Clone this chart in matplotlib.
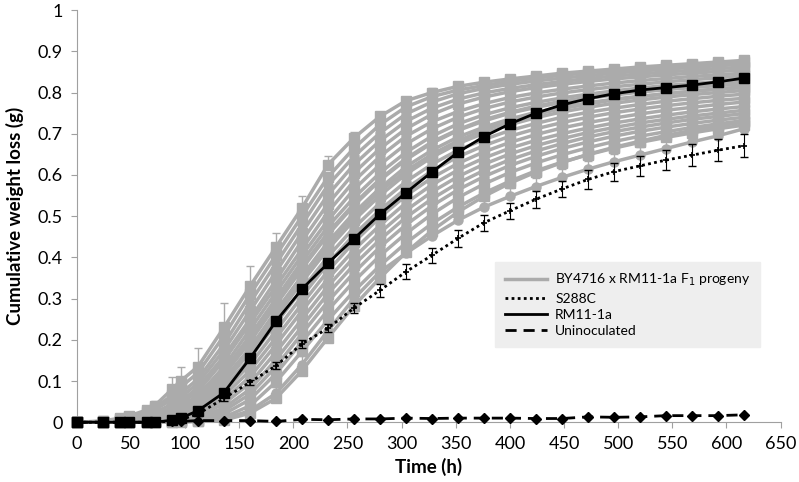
import matplotlib.pyplot as plt
import numpy as np

plt.rcParams['font.family'] = ['Lato', 'DejaVu Sans']

# sampling times (h)
t = [0, 24, 40, 48, 65, 72, 88, 96, 112, 136, 160, 184, 208, 232, 256, 280, 304,
     328, 352, 376, 400, 424, 448, 472, 496, 520, 544, 568, 592, 616]

rm11 = [0, 0, 0, 0, 0, 0, 0.005, 0.01, 0.028, 0.072, 0.155, 0.245, 0.323, 0.386, 0.445,
        0.505, 0.557, 0.607, 0.655, 0.693, 0.724, 0.75, 0.77, 0.785, 0.797, 0.806,
        0.812, 0.818, 0.826, 0.835]
s288c = [0, 0, 0, 0, 0, 0, 0.003, 0.006, 0.02, 0.058, 0.097, 0.137, 0.19, 0.228, 0.277,
         0.32, 0.365, 0.405, 0.446, 0.484, 0.513, 0.541, 0.566, 0.589, 0.608, 0.622,
         0.636, 0.648, 0.66, 0.671]
s288c_err = [0, 0, 0, 0, 0, 0, 0.002, 0.003, 0.004, 0.006, 0.006, 0.008, 0.01, 0.01, 0.013,
             0.016, 0.018, 0.018, 0.02, 0.02, 0.02, 0.02, 0.02, 0.022, 0.022, 0.024,
             0.025, 0.027, 0.027, 0.028]
uninoc = [0, 0, 0, 0, 0, 0, 0.002, 0.002, 0.004, 0.004, 0.004, 0.002, 0.007, 0.006, 0.008,
          0.008, 0.01, 0.009, 0.01, 0.01, 0.01, 0.009, 0.009, 0.013, 0.012, 0.013,
          0.016, 0.016, 0.016, 0.018]

# F1 progeny (grey)
g01 = [0, 0.003, 0.01, 0.015, 0.03, 0.04, 0.08, 0.1, 0.135, 0.23, 0.33, 0.425, 0.52, 0.625, 0.69, 0.742, 0.78, 0.8, 0.815, 0.825, 0.833, 0.84, 0.847, 0.852, 0.857, 0.862, 0.866, 0.87, 0.874, 0.878]
g02 = [0, 0.002, 0.008, 0.012, 0.025, 0.035, 0.065, 0.085, 0.12, 0.21, 0.31, 0.405, 0.5, 0.595, 0.665, 0.722, 0.765, 0.79, 0.806, 0.817, 0.827, 0.835, 0.842, 0.848, 0.853, 0.858, 0.862, 0.866, 0.87, 0.873]
g03 = [0, 0.002, 0.006, 0.01, 0.02, 0.03, 0.055, 0.07, 0.105, 0.19, 0.29, 0.385, 0.48, 0.575, 0.645, 0.702, 0.748, 0.777, 0.797, 0.81, 0.82, 0.828, 0.835, 0.841, 0.847, 0.852, 0.857, 0.861, 0.865, 0.869]
g04 = [0, 0.001, 0.004, 0.008, 0.015, 0.022, 0.045, 0.06, 0.095, 0.175, 0.27, 0.365, 0.46, 0.552, 0.625, 0.683, 0.73, 0.762, 0.784, 0.799, 0.81, 0.819, 0.827, 0.834, 0.84, 0.845, 0.85, 0.854, 0.858, 0.862]
g05 = [0, 0.001, 0.003, 0.006, 0.012, 0.018, 0.035, 0.05, 0.085, 0.16, 0.25, 0.345, 0.44, 0.53, 0.605, 0.664, 0.712, 0.747, 0.772, 0.789, 0.802, 0.812, 0.82, 0.827, 0.833, 0.838, 0.843, 0.847, 0.851, 0.855]
g06 = [0, 0.001, 0.003, 0.005, 0.01, 0.015, 0.03, 0.045, 0.075, 0.15, 0.24, 0.33, 0.42, 0.51, 0.585, 0.645, 0.694, 0.729, 0.754, 0.773, 0.788, 0.799, 0.808, 0.816, 0.823, 0.829, 0.834, 0.839, 0.843, 0.847]
g07 = [0, 0.001, 0.002, 0.004, 0.008, 0.012, 0.025, 0.038, 0.065, 0.135, 0.225, 0.315, 0.405, 0.49, 0.565, 0.625, 0.675, 0.712, 0.74, 0.761, 0.777, 0.789, 0.799, 0.807, 0.814, 0.82, 0.826, 0.831, 0.836, 0.84]
g08 = [0, 0.001, 0.002, 0.003, 0.006, 0.01, 0.02, 0.032, 0.058, 0.125, 0.21, 0.3, 0.39, 0.475, 0.545, 0.605, 0.655, 0.694, 0.724, 0.746, 0.763, 0.776, 0.787, 0.796, 0.804, 0.811, 0.817, 0.822, 0.826, 0.83]
g09 = [0, 0.001, 0.002, 0.003, 0.005, 0.008, 0.018, 0.028, 0.052, 0.115, 0.195, 0.285, 0.372, 0.455, 0.526, 0.587, 0.637, 0.677, 0.708, 0.731, 0.75, 0.764, 0.776, 0.786, 0.794, 0.801, 0.807, 0.812, 0.817, 0.821]
g10 = [0, 0, 0.001, 0.002, 0.004, 0.006, 0.015, 0.024, 0.045, 0.105, 0.18, 0.27, 0.355, 0.437, 0.508, 0.568, 0.62, 0.66, 0.692, 0.716, 0.736, 0.752, 0.765, 0.775, 0.784, 0.791, 0.797, 0.803, 0.808, 0.812]
g11 = [0, 0, 0.001, 0.002, 0.003, 0.005, 0.012, 0.02, 0.04, 0.095, 0.17, 0.255, 0.34, 0.42, 0.49, 0.55, 0.602, 0.643, 0.676, 0.701, 0.722, 0.739, 0.753, 0.764, 0.774, 0.782, 0.789, 0.795, 0.8, 0.805]
g12 = [0, 0, 0.001, 0.001, 0.003, 0.004, 0.01, 0.016, 0.034, 0.085, 0.155, 0.24, 0.322, 0.402, 0.472, 0.532, 0.584, 0.626, 0.66, 0.686, 0.708, 0.725, 0.74, 0.752, 0.762, 0.771, 0.779, 0.785, 0.791, 0.796]
g13 = [0, 0, 0, 0.001, 0.002, 0.003, 0.008, 0.013, 0.028, 0.075, 0.14, 0.222, 0.305, 0.385, 0.455, 0.515, 0.567, 0.61, 0.644, 0.671, 0.694, 0.712, 0.727, 0.74, 0.751, 0.76, 0.768, 0.775, 0.781, 0.786]
g14 = [0, 0, 0, 0.001, 0.002, 0.003, 0.006, 0.01, 0.022, 0.065, 0.125, 0.205, 0.287, 0.367, 0.437, 0.497, 0.55, 0.593, 0.628, 0.656, 0.679, 0.698, 0.714, 0.727, 0.738, 0.748, 0.757, 0.764, 0.771, 0.777]
g15 = [0, 0, 0, 0, 0.001, 0.002, 0.005, 0.008, 0.018, 0.055, 0.11, 0.188, 0.27, 0.348, 0.418, 0.478, 0.532, 0.576, 0.612, 0.641, 0.665, 0.684, 0.7, 0.714, 0.726, 0.736, 0.745, 0.753, 0.76, 0.766]
g16 = [0, 0, 0, 0, 0.001, 0.002, 0.004, 0.006, 0.014, 0.045, 0.095, 0.17, 0.25, 0.33, 0.4, 0.46, 0.514, 0.559, 0.596, 0.626, 0.651, 0.671, 0.688, 0.703, 0.715, 0.726, 0.735, 0.743, 0.75, 0.757]
g17 = [0, 0, 0, 0, 0, 0.001, 0.003, 0.005, 0.01, 0.035, 0.08, 0.152, 0.232, 0.312, 0.382, 0.443, 0.497, 0.542, 0.58, 0.611, 0.637, 0.658, 0.676, 0.692, 0.705, 0.716, 0.726, 0.735, 0.742, 0.749]
g18 = [0, 0, 0, 0, 0, 0.001, 0.002, 0.004, 0.008, 0.028, 0.068, 0.135, 0.215, 0.293, 0.363, 0.425, 0.479, 0.525, 0.564, 0.596, 0.623, 0.645, 0.664, 0.68, 0.694, 0.706, 0.716, 0.725, 0.733, 0.74]
g19 = [0, 0, 0, 0, 0, 0, 0.002, 0.003, 0.006, 0.02, 0.055, 0.118, 0.195, 0.272, 0.342, 0.404, 0.458, 0.505, 0.545, 0.578, 0.606, 0.629, 0.649, 0.666, 0.681, 0.694, 0.705, 0.715, 0.724, 0.732]
g20 = [0, 0, 0, 0, 0, 0, 0.001, 0.002, 0.004, 0.012, 0.04, 0.098, 0.172, 0.248, 0.318, 0.38, 0.435, 0.482, 0.522, 0.556, 0.585, 0.61, 0.631, 0.649, 0.665, 0.679, 0.691, 0.702, 0.712, 0.721]
g21 = [0, 0, 0, 0, 0, 0, 0, 0.001, 0.003, 0.008, 0.028, 0.07, 0.14, 0.222, 0.3, 0.365, 0.41, 0.452, 0.49, 0.522, 0.548, 0.572, 0.594, 0.614, 0.632, 0.648, 0.664, 0.68, 0.695, 0.712]
g22 = [0, 0, 0, 0, 0, 0, 0, 0, 0.002, 0.005, 0.022, 0.058, 0.125, 0.205, 0.282, 0.35, 0.412, 0.465, 0.51, 0.548, 0.58, 0.607, 0.63, 0.65, 0.667, 0.682, 0.696, 0.708, 0.719, 0.728]
g23 = [0, 0, 0, 0.001, 0.002, 0.004, 0.012, 0.02, 0.038, 0.098, 0.175, 0.26, 0.348, 0.43, 0.5, 0.56, 0.61, 0.65, 0.683, 0.709, 0.73, 0.747, 0.761, 0.772, 0.782, 0.79, 0.797, 0.803, 0.809, 0.814]
g24 = [0, 0, 0.001, 0.002, 0.004, 0.006, 0.016, 0.026, 0.05, 0.118, 0.2, 0.29, 0.378, 0.46, 0.53, 0.59, 0.64, 0.68, 0.71, 0.734, 0.752, 0.767, 0.779, 0.789, 0.798, 0.805, 0.811, 0.816, 0.821, 0.826]

progeny = [g01, g02, g03, g04, g05, g06, g07, g08, g09, g10, g11, g12,
           g13, g14, g15, g16, g17, g18, g19, g20, g21, g22, g23, g24]
# error bars on a few progeny
g01_err = [0, 0, 0.003, 0.004, 0.01, 0.012, 0.03, 0.035, 0.045, 0.06, 0.05, 0.035, 0.03, 0.02, 0.015, 0.012, 0.01, 0.01, 0.008, 0.008, 0.008, 0.008, 0.008, 0.008, 0.008, 0.008, 0.008, 0.008, 0.008, 0.008]
g21_err = [0, 0, 0, 0, 0, 0, 0, 0, 0.002, 0.004, 0.01, 0.015, 0.02, 0.025, 0.025, 0.025, 0.025, 0.022, 0.02, 0.02, 0.02, 0.02, 0.02, 0.02, 0.02, 0.02, 0.02, 0.02, 0.02, 0.02]

grey = '#ABABAB'

fig, ax = plt.subplots(figsize=(7.99, 4.82), dpi=100)
fig.subplots_adjust(left=0.096, right=0.977, bottom=0.124, top=0.979)

for i, g in enumerate(progeny):
    mk = 's' if i % 3 != 2 else 'o'
    ax.plot(t, g, color=grey, lw=2.5, marker=mk, ms=6.5, zorder=2, clip_on=False,
            label='BY4716 x RM11-1a F$_1$ progeny' if i == 0 else None)
ax.errorbar(t, g01, yerr=[np.zeros(len(t)), g01_err], fmt='none', ecolor=grey, elinewidth=1, capsize=3, zorder=2)
ax.errorbar(t, g21, yerr=[np.zeros(len(t)), g21_err], fmt='none', ecolor=grey, elinewidth=1, capsize=3, zorder=2)

ax.errorbar(t, s288c, yerr=s288c_err, fmt='none', ecolor='black', elinewidth=0.8, capsize=3, zorder=3)
ax.plot(t, s288c, color='black', ls=(0, (1, 1.2)), lw=2, marker='+', ms=5, mew=1.2, zorder=4,
        clip_on=False, label='S288C')
ax.plot(t, rm11, color='black', lw=2, marker='s', ms=7.5, zorder=5, clip_on=False, label='RM11-1a')
ax.plot(t, uninoc, color='black', lw=2, ls=(0, (4, 2.5)), marker='D', ms=5, zorder=5,
        clip_on=False, label='Uninoculated')

ax.set_xlim(0, 650)
ax.set_ylim(0, 1)
ax.set_xticks(np.arange(0, 651, 50))
ax.set_yticks(np.arange(0, 1.01, 0.1))
ax.set_yticklabels(['0', '0.1', '0.2', '0.3', '0.4', '0.5', '0.6', '0.7', '0.8', '0.9', '1'])
ax.tick_params(labelsize=13, color='#A0A0A0', length=4, pad=6)
for s in ['top', 'right']:
    ax.spines[s].set_visible(False)
for s in ['left', 'bottom']:
    ax.spines[s].set_color('#A0A0A0')
ax.set_xlabel('Time (h)', fontsize=13.5, fontweight='bold', labelpad=4)
ax.set_ylabel('Cumulative weight loss (g)', fontsize=13.5, fontweight='bold', labelpad=10)

leg = ax.legend(loc='upper left', bbox_to_anchor=(0.585, 0.405), fontsize=10,
                handlelength=3, frameon=True, fancybox=False, borderpad=0.7,
                labelspacing=0.3, handletextpad=0.6)
leg.get_frame().set_facecolor('#EEEEEE')
leg.get_frame().set_edgecolor('#EEEEEE')
leg.get_frame().set_alpha(1)
for h in leg.legend_handles:
    h.set_marker('')

plt.savefig('out.png')
